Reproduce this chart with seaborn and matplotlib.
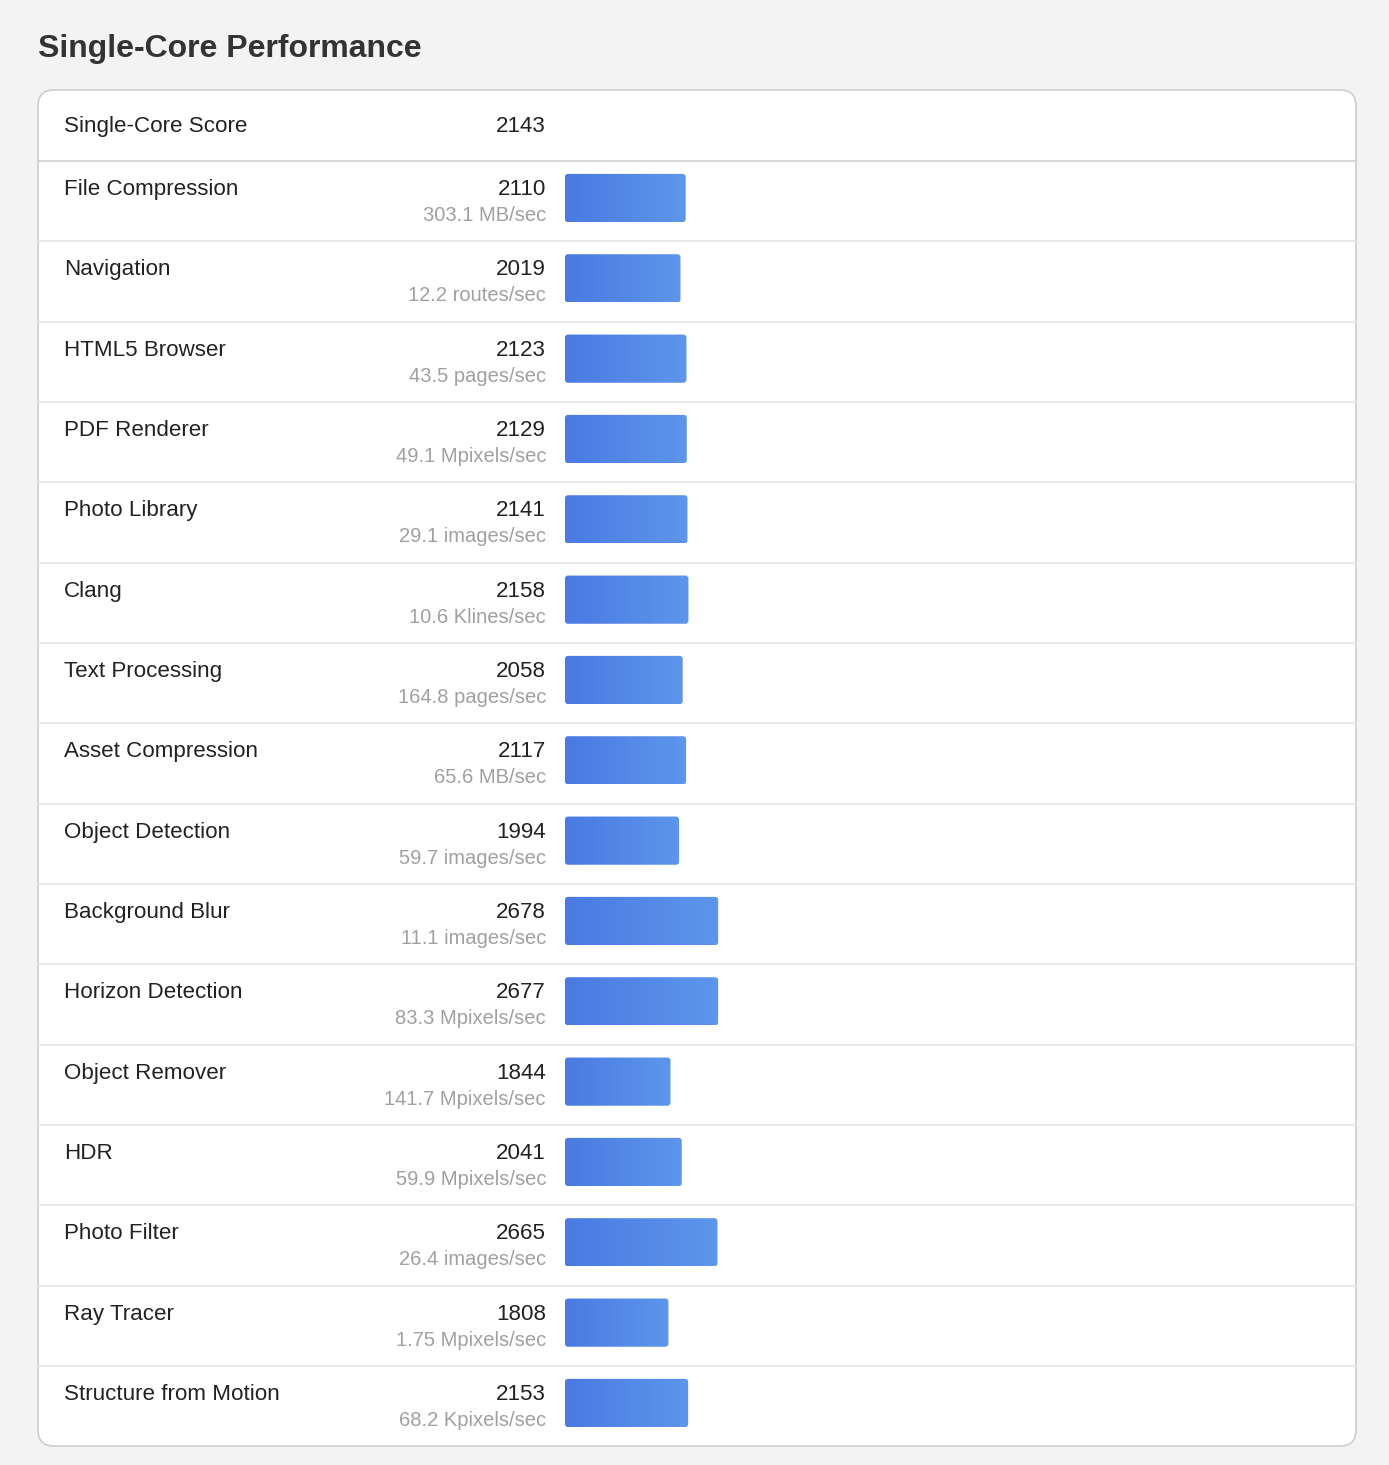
import numpy as np
import pandas as pd
import seaborn as sns
import matplotlib.pyplot as plt
from matplotlib.patches import FancyBboxPatch

# data
title = "Single-Core Performance"
total_label = "Single-Core Score"
total_score = 2143
names = ["File Compression", "Navigation", "HTML5 Browser", "PDF Renderer",
         "Photo Library", "Clang", "Text Processing", "Asset Compression",
         "Object Detection", "Background Blur", "Horizon Detection",
         "Object Remover", "HDR", "Photo Filter", "Ray Tracer",
         "Structure from Motion"]
scores = [2110, 2019, 2123, 2129, 2141, 2158, 2058, 2117,
          1994, 2678, 2677, 1844, 2041, 2665, 1808, 2153]
units = ["303.1 MB/sec", "12.2 routes/sec", "43.5 pages/sec", "49.1 Mpixels/sec",
         "29.1 images/sec", "10.6 Klines/sec", "164.8 pages/sec", "65.6 MB/sec",
         "59.7 images/sec", "11.1 images/sec", "83.3 Mpixels/sec",
         "141.7 Mpixels/sec", "59.9 Mpixels/sec", "26.4 images/sec",
         "1.75 Mpixels/sec", "68.2 Kpixels/sec"]

df = pd.DataFrame({"name": names, "score": scores, "unit": units})

sns.set_style("white")
plt.rcParams['font.family'] = ['Liberation Sans', 'DejaVu Sans']

W, H = 1389, 1465
fig = plt.figure(figsize=(W / 100, H / 100), dpi=100)
fig.patch.set_facecolor("#f3f3f3")

# background axes in pixel coordinates
ax = fig.add_axes([0, 0, 1, 1])
ax.set_xlim(0, W)
ax.set_ylim(H, 0)
ax.axis("off")

card_l, card_r, card_t, card_b = 38, 1356, 90, 1446
card = FancyBboxPatch((card_l, card_t), card_r - card_l, card_b - card_t,
                      boxstyle="round,pad=0,rounding_size=16",
                      facecolor="white", edgecolor="#cdcdcd", lw=1.2, zorder=1)
ax.add_patch(card)

ax.text(38, 57, title, fontsize=23.0, fontweight="bold", color="#333333",
        va="baseline", ha="left")

row_h = 80.33
first_top = 161
name_fs = 16.1
unit_fs = 14.5

ax.text(64, 132, total_label, fontsize=name_fs, color="#222222", va="baseline")
ax.text(546, 132, str(total_score), fontsize=name_fs, color="#222222",
        va="baseline", ha="right")
ax.plot([card_l, card_r], [first_top, first_top], color="#cfcfcf", lw=1.2, zorder=2)

for i, row in df.iterrows():
    top = first_top + i * row_h
    if i > 0:
        ax.plot([card_l, card_r], [top, top], color="#e4e4e4", lw=1.2, zorder=2)
    ax.text(64, top + 34, row["name"], fontsize=name_fs, color="#222222", va="baseline")
    ax.text(546, top + 34, str(row["score"]), fontsize=name_fs, color="#222222",
            va="baseline", ha="right")
    ax.text(546, top + 60, row["unit"], fontsize=unit_fs, color="#a0a0a0",
            va="baseline", ha="right")

# bar axes: data scale for the bars
k = 0.0572  # pixels per score point
xmax = 3000
bar_left = 565
ax_top_px = first_top + 37 - row_h / 2
ax_h_px = len(names) * row_h
axb = fig.add_axes([bar_left / W, 1 - (ax_top_px + ax_h_px) / H,
                    xmax * k / W, ax_h_px / H])
axb.patch.set_alpha(0)
sns.barplot(data=df, x="score", y="name", orient="h", ax=axb,
            width=0.6, color="#4f86e4", saturation=1)
axb.axis("off")

grad = np.linspace(0, 1, 256)[None, :, None]
c0 = np.array([74, 122, 226]) / 255
c1 = np.array([93, 150, 235]) / 255
img = c0 + (c1 - c0) * grad

rx = 3 / k
ry = 3 / row_h
for p in list(axb.patches):
    x0, y0, w, h = p.get_x(), p.get_y(), p.get_width(), p.get_height()
    rb = FancyBboxPatch((x0, y0), w, h,
                        boxstyle=f"round,pad=0,rounding_size={rx}",
                        mutation_aspect=ry / rx, facecolor="none",
                        edgecolor="none", transform=axb.transData)
    axb.add_patch(rb)
    im = axb.imshow(img, extent=[x0, x0 + w, y0 + h, y0], aspect="auto",
                    interpolation="bilinear", zorder=3)
    im.set_clip_path(rb)
    p.set_visible(False)

axb.set_xlim(0, xmax)
axb.set_ylim(len(names) - 0.5, -0.5)

fig.savefig("out.png", dpi=100, facecolor=fig.get_facecolor())
